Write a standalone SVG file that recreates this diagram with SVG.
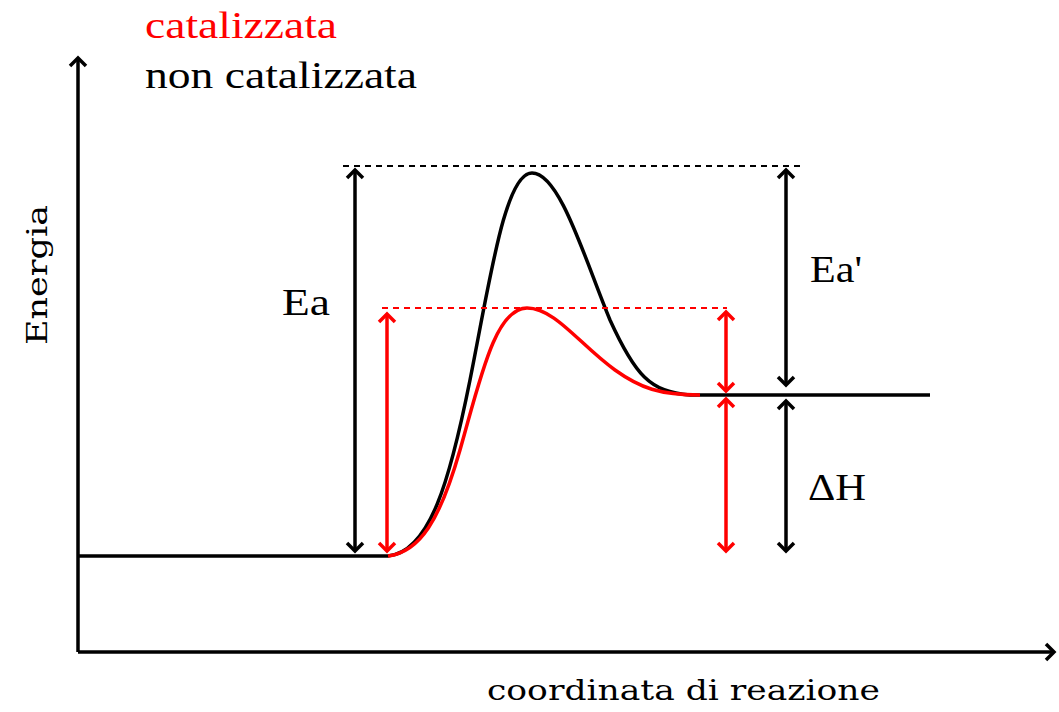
<svg xmlns="http://www.w3.org/2000/svg" width="1059" height="712" viewBox="0 0 1059 712">
<style>
.t{font-family:"Liberation Serif","Times New Roman",serif;}
.s{font-family:"DejaVu Serif","Liberation Serif",serif;}
.k{stroke:#000;stroke-width:3.5;fill:none;}
.r{stroke:#f00;stroke-width:3.5;fill:none;}
.kd{stroke:#000;stroke-width:2;stroke-dasharray:6,5;fill:none;}
.rd{stroke:#f00;stroke-width:2;stroke-dasharray:6,5;fill:none;}
</style>
<defs>
<marker id="ak" viewBox="0 0 20 20" refX="10" refY="10" markerWidth="20" markerHeight="20" markerUnits="userSpaceOnUse" orient="auto-start-reverse">
<path d="M2,2 L10,10 L2,18" fill="none" stroke="#000" stroke-width="3.5"/>
</marker>
<marker id="ar" viewBox="0 0 20 20" refX="10" refY="10" markerWidth="20" markerHeight="20" markerUnits="userSpaceOnUse" orient="auto-start-reverse">
<path d="M2,2 L10,10 L2,18" fill="none" stroke="#f00" stroke-width="3.5"/>
</marker>
</defs>
<rect width="1059" height="712" fill="#fff"/>
<g id="axes">
<line class="k" x1="78" y1="652" x2="78" y2="58" marker-end="url(#ak)"/>
<line class="k" x1="78" y1="652" x2="1054" y2="652" marker-end="url(#ak)"/>
</g>
<g id="curves">
<path class="k" d="M78,556 L388,556 C430,552 450,480 470,380 C490,280 505,173 532,173 C560,173 585,260 610,320 C635,375 650,392 690,395 L930,395"/>
<path class="r" d="M388,556 C420,552 440,520 460,450 C480,380 495,308 527,308 C555,308 580,345 615,370 C640,388 660,395 700,395"/>
</g>
<g id="connectors">
<line class="kd" x1="343" y1="166" x2="800" y2="166"/>
<line class="rd" x1="382" y1="308" x2="727" y2="308"/>
<line class="k" x1="355" y1="170" x2="355" y2="551" marker-start="url(#ak)" marker-end="url(#ak)"/>
<line class="r" x1="387" y1="314" x2="387" y2="551" marker-start="url(#ar)" marker-end="url(#ar)"/>
<line class="r" x1="726" y1="312" x2="726" y2="391" marker-start="url(#ar)" marker-end="url(#ar)"/>
<line class="r" x1="726" y1="399" x2="726" y2="551" marker-start="url(#ar)" marker-end="url(#ar)"/>
<line class="k" x1="786" y1="170" x2="786" y2="385" marker-start="url(#ak)" marker-end="url(#ak)"/>
<line class="k" x1="786" y1="401" x2="786" y2="551" marker-start="url(#ak)" marker-end="url(#ak)"/>
</g>
<g id="labels">
<text class="t" x="145" y="38" font-size="38" fill="#f00" textLength="192" lengthAdjust="spacingAndGlyphs">catalizzata</text>
<text class="t" x="145" y="88" font-size="38" fill="#000" textLength="272" lengthAdjust="spacingAndGlyphs">non catalizzata</text>
<text class="t" x="282" y="315" font-size="37" fill="#000" textLength="48" lengthAdjust="spacingAndGlyphs">Ea</text>
<text class="t" x="810" y="282" font-size="37" fill="#000" textLength="52" lengthAdjust="spacingAndGlyphs">Ea'</text>
<text class="t" x="808" y="500" font-size="37" fill="#000" textLength="58" lengthAdjust="spacingAndGlyphs">ΔH</text>
<text class="s" x="0" y="0" font-size="27" fill="#000" transform="translate(47,345) rotate(-90)" textLength="140" lengthAdjust="spacingAndGlyphs">Energia</text>
<text class="s" x="487" y="700" font-size="27" fill="#000" textLength="393" lengthAdjust="spacingAndGlyphs">coordinata di reazione</text>
</g>
</svg>
